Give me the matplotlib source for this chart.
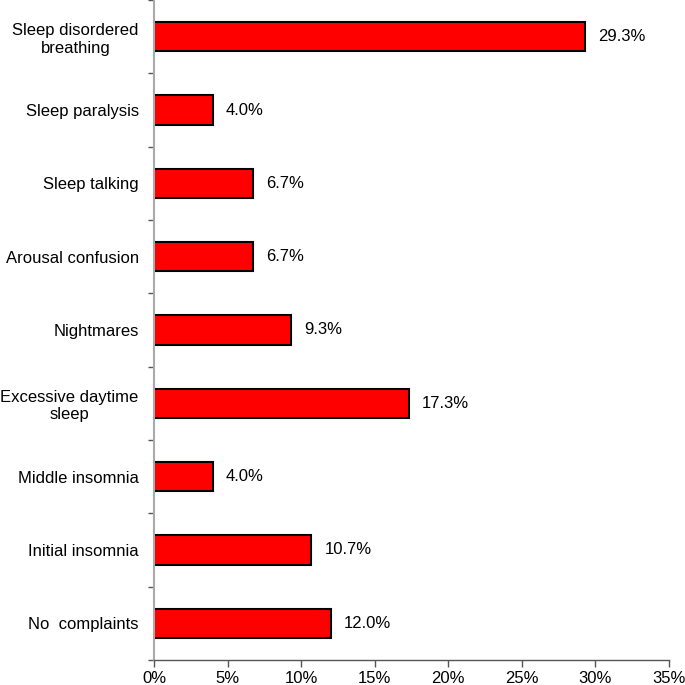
import matplotlib
matplotlib.use("Agg")
import matplotlib.pyplot as plt
import numpy as np

categories = ["No  complaints", "Initial insomnia", "Middle insomnia",
              "Excessive daytime\nsleep", "Nightmares", "Arousal confusion",
              "Sleep talking", "Sleep paralysis", "Sleep disordered\nbreathing"]
values = [12.0, 10.7, 4.0, 17.3, 9.3, 6.7, 6.7, 4.0, 29.3]
xticks = [0, 5, 10, 15, 20, 25, 30, 35]

plt.rcParams['font.family'] = ['Liberation Sans', 'DejaVu Sans']
fig = plt.figure(figsize=(6.85, 6.85), dpi=100)
ax = fig.add_axes([154/685, 25/685, 515/685, 660/685])
y = np.arange(len(categories))
ax.barh(y, values, height=0.4, color='#ff0000', edgecolor='black', linewidth=1.5)
for yi, v in zip(y, values):
    ax.text(v + 0.9, yi, f"{v:.1f}%", va='center', ha='left', fontsize=12)
ax.set_xlim(0, 35)
ax.set_ylim(-0.5, len(categories) - 0.5)
ax.set_xticks(xticks)
ax.set_xticklabels([f"{t}%" for t in xticks], fontsize=12)
ax.set_yticks(y)
ax.set_yticklabels(categories, fontsize=12, ha='right', multialignment='center')
ax.tick_params(axis='y', which='major', length=0, pad=11)
ax.set_yticks(np.arange(-0.5, len(categories), 1), minor=True)
ax.tick_params(axis='y', which='minor', length=4, color='#555555', width=1)
ax.tick_params(axis='x', length=5, color='#555555', width=1, pad=3)
for s in ['top', 'right']:
    ax.spines[s].set_visible(False)
ax.spines['left'].set_color('#aaaaaa')
ax.spines['left'].set_linewidth(1.5)
ax.spines['bottom'].set_color('#555555')
ax.spines['bottom'].set_linewidth(1)
fig.savefig("out.png", dpi=100)
